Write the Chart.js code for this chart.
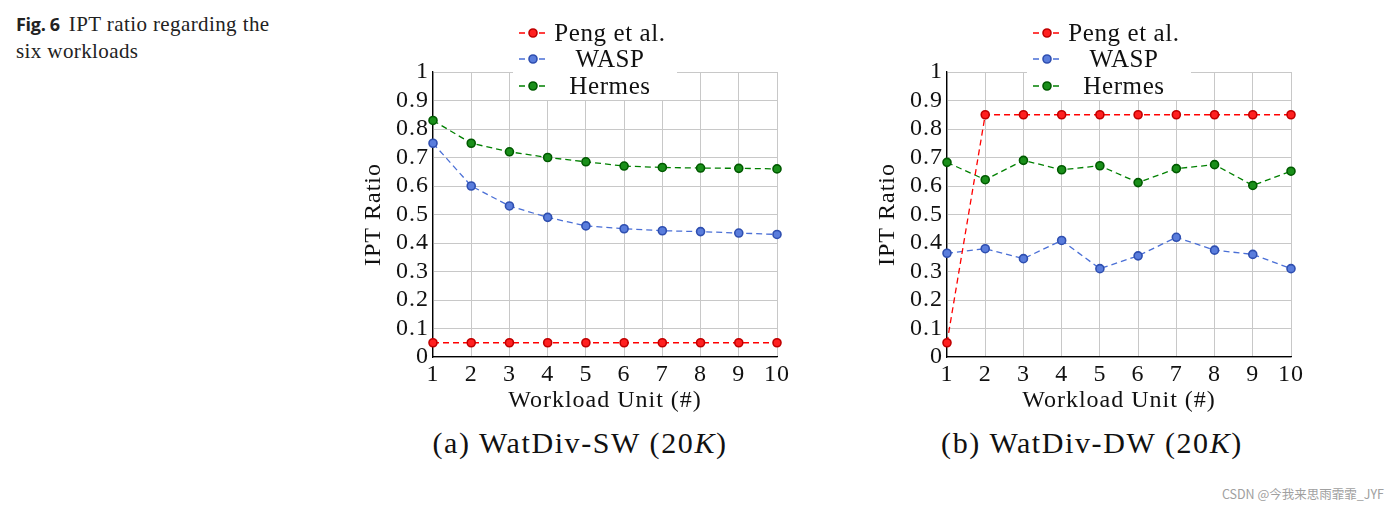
<!DOCTYPE html>
<html>
<head>
<meta charset="utf-8">
<script src="https://cdn.jsdelivr.net/npm/chart.js@4"></script>
<style>
  body { margin: 0; width: 1400px; height: 510px; background: #fff; position: relative; overflow: hidden; }
  .fig { position: absolute; left: 16px; top: 11px; font-family: "Liberation Serif", serif; font-size: 21px; letter-spacing: 0.4px; line-height: 27px; color: #222; }
  .fig b { font-family: "Open Sans", "Liberation Sans", sans-serif; font-size: 18px; font-weight: 700; letter-spacing: -0.3px; margin-right: 9px; }
  .panel { position: absolute; top: 0; width: 450px; height: 420px; }
  .cap { position: absolute; top: 426px; width: 450px; text-align: center; font-family: "Liberation Serif", serif; font-size: 30px; letter-spacing: 1.6px; color: #111; }
  .mark { position: absolute; right: 16px; top: 484px; font-family: "Noto Sans CJK SC", "Noto Sans", sans-serif; font-size: 12.5px; color: #a0a0a0; }
</style>
</head>
<body>
<div class="fig"><b>Fig. 6</b>IPT ratio regarding the<br>six workloads</div>

<div class="panel" style="left:350px"><canvas id="chartA" width="450" height="420"></canvas></div>
<div class="panel" style="left:864px"><canvas id="chartB" width="450" height="420"></canvas></div>
<div class="cap" style="left:355px">(a) WatDiv-SW (20<i>K</i>)</div>
<div class="cap" style="left:867px">(b) WatDiv-DW (20<i>K</i>)</div>
<div class="mark">CSDN @今我来思雨霏霏_JYF</div>

<script>
(function () {
    'use strict';

    // -----------------------------------------------------------------------
    // Data
    // -----------------------------------------------------------------------
    const workloads = ['1', '2', '3', '4', '5', '6', '7', '8', '9', '10'];
    const yTickLabels = ['0', '0.1', '0.2', '0.3', '0.4', '0.5', '0.6', '0.7', '0.8', '0.9', '1'];
    const seriesNames = ['Peng et al.', 'WASP', 'Hermes'];

    // (a) WatDiv-SW
    const swPeng   = [0.05, 0.05, 0.05, 0.05, 0.05, 0.05, 0.05, 0.05, 0.05, 0.05];
    const swWasp   = [0.75, 0.60, 0.53, 0.49, 0.46, 0.45, 0.443, 0.44, 0.435, 0.43];
    const swHermes = [0.83, 0.75, 0.72, 0.70, 0.685, 0.67, 0.665, 0.663, 0.662, 0.66];

    // (b) WatDiv-DW
    const dwPeng   = [0.05, 0.85, 0.85, 0.85, 0.85, 0.85, 0.85, 0.85, 0.85, 0.85];
    const dwWasp   = [0.364, 0.38, 0.345, 0.409, 0.31, 0.355, 0.42, 0.375, 0.36, 0.31];
    const dwHermes = [0.683, 0.622, 0.69, 0.657, 0.671, 0.612, 0.661, 0.675, 0.602, 0.652];

    // -----------------------------------------------------------------------
    // Styles
    // -----------------------------------------------------------------------
    const STYLES = [
        { line: '#ff0000', fill: '#ff2020', border: '#c00000' },
        { line: '#4a6fd6', fill: '#5a7ddc', border: '#2f4fb0' },
        { line: '#008000', fill: '#1a8f1a', border: '#005a00' },
    ];
    const SERIF = '"Liberation Serif", "Times New Roman", serif';

    function makeDataset(i, values) {
        const s = STYLES[i];
        return {
            label: seriesNames[i],
            data: values,
            borderColor: s.line,
            borderWidth: 1.3,
            borderDash: [6, 4],
            pointRadius: 4,
            pointBorderWidth: 1.6,
            pointBackgroundColor: s.fill,
            pointBorderColor: s.border,
            tension: 0,
            fill: false,
            clip: false,
        };
    }

    // wider text, closer to the LaTeX look of the original
    const wideText = {
        id: 'wideText',
        beforeDraw: function (chart) { chart.ctx.letterSpacing = '1px'; },
    };

    // Legend box that sits over the top of the plot
    const overlayLegend = {
        id: 'overlayLegend',
        afterDraw: function (chart) {
            const ctx = chart.ctx;
            const rows = [33, 59, 86];
            ctx.save();
            ctx.fillStyle = '#ffffff';
            ctx.fillRect(163, 16, 164, 84);
            chart.data.datasets.forEach(function (ds, i) {
                const y = rows[i];
                ctx.strokeStyle = ds.borderColor;
                ctx.lineWidth = 1.3;
                ctx.setLineDash([6, 4]);
                ctx.beginPath();
                ctx.moveTo(169, y);
                ctx.lineTo(197, y);
                ctx.stroke();
                ctx.setLineDash([]);
                ctx.beginPath();
                ctx.arc(183, y, 4, 0, Math.PI * 2);
                ctx.fillStyle = ds.pointBackgroundColor;
                ctx.fill();
                ctx.lineWidth = 1.6;
                ctx.strokeStyle = ds.pointBorderColor;
                ctx.stroke();
                ctx.fillStyle = '#111';
                ctx.font = '25px ' + SERIF;
                ctx.letterSpacing = '0.6px';
                ctx.textAlign = 'center';
                ctx.textBaseline = 'middle';
                ctx.fillText(ds.label, 260, y + 1);
            });
            ctx.restore();
        },
    };

    function makeChart(canvasId, peng, wasp, hermes) {
        return new Chart(document.getElementById(canvasId), {
            type: 'line',
            data: {
                labels: workloads,
                datasets: [makeDataset(0, peng), makeDataset(1, wasp), makeDataset(2, hermes)],
            },
            options: {
                responsive: false,
                animation: false,
                layout: { padding: { left: 0, right: 23, top: 72, bottom: 0 } },
                plugins: {
                    legend: { display: false },
                    tooltip: { enabled: false },
                },
                scales: {
                    x: {
                        offset: false,
                        grid: { color: '#c8c8c8', drawTicks: false, offset: false },
                        border: { color: '#000', width: 1.3 },
                        ticks: { color: '#111', padding: 3, font: { family: SERIF, size: 24 }, maxRotation: 0, autoSkip: false },
                        title: { display: true, text: 'Workload Unit (#)', color: '#111', font: { family: SERIF, size: 24 }, padding: { top: 0, bottom: 5 } },
                        afterFit: function (scale) { scale.height = 63; },
                    },
                    y: {
                        min: 0,
                        max: 1,
                        grid: { color: '#c8c8c8', drawTicks: false },
                        border: { color: '#000', width: 1.3 },
                        ticks: {
                            stepSize: 0.1,
                            autoSkip: false,
                            color: '#111',
                            padding: 4,
                            font: { family: SERIF, size: 24, lineHeight: 0.9 },
                            callback: function (v, idx) { return yTickLabels[idx]; },
                        },
                        title: { display: true, text: 'IPT Ratio', color: '#111', font: { family: SERIF, size: 24 }, padding: { top: 9, bottom: 0 } },
                        afterFit: function (scale) { scale.width = 83; },
                    },
                },
            },
            plugins: [wideText, overlayLegend],
        });
    }

    makeChart('chartA', swPeng, swWasp, swHermes);
    makeChart('chartB', dwPeng, dwWasp, dwHermes);
})();
</script>
</body>
</html>
